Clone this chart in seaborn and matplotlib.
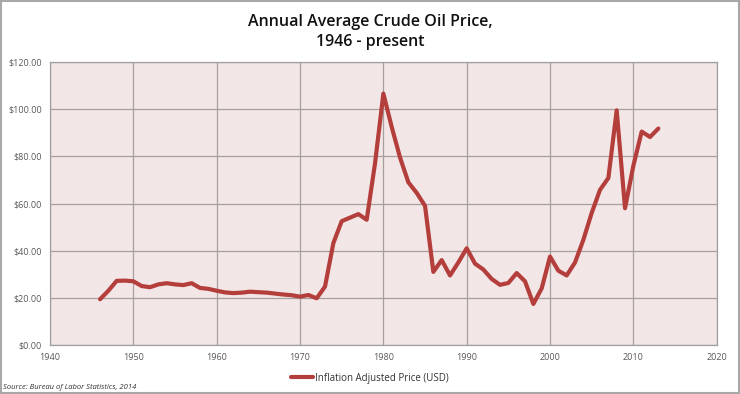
import matplotlib.pyplot as plt
import matplotlib.patches as mpatches
import numpy as np
import pandas as pd
import seaborn as sns

# annual values (inflation adjusted USD)
years = list(range(1946, 2014))
price = [19.4, 23.0, 27.2, 27.3, 27.0, 25.0, 24.5, 25.7, 26.2, 25.7,
         25.4, 26.2, 24.2, 23.8, 23.0, 22.3, 22.0, 22.2, 22.6, 22.4,
         22.2, 21.8, 21.4, 21.1, 20.5, 21.2, 19.8, 24.8, 43.2, 52.5,
         54.0, 55.5, 53.1, 77.0, 106.6, 92.5, 79.5, 69.0, 64.5, 59.0,
         31.0, 36.0, 29.5, 35.0, 41.0, 34.5, 32.0, 28.0, 25.5, 26.3,
         30.5, 27.0, 17.4, 24.0, 37.5, 31.5, 29.5, 35.0, 44.6, 56.0,
         65.8, 70.8, 99.5, 58.0, 76.0, 90.5, 88.2, 91.8]
x_ticks = [1940, 1950, 1960, 1970, 1980, 1990, 2000, 2010, 2020]
y_ticks = [0, 20, 40, 60, 80, 100, 120]

df = pd.DataFrame({"year": years, "price": price})

sns.set_style("white")
plt.rcParams['font.family'] = ['Open Sans', 'DejaVu Sans']

fig = plt.figure(figsize=(7.4, 3.94), dpi=100)
ax = fig.add_axes([0.0676, 0.1244, 0.9009, 0.7182])
ax.set_facecolor("#F3E6E6")

sns.lineplot(data=df, x="year", y="price", ax=ax, color="#B43E3C",
             linewidth=3.0, label="Inflation Adjusted Price (USD)",
             solid_joinstyle="round", solid_capstyle="round")

ax.set_xlim(1940, 2020)
ax.set_ylim(0, 120)
ax.set_xticks(x_ticks)
ax.set_yticks(y_ticks)
ax.set_yticklabels(["${:.2f}".format(v) for v in y_ticks])
ax.grid(True, color="#A79E9E", linewidth=0.9)
ax.set_axisbelow(True)
for s in ax.spines.values():
    s.set_color("#A0A0A0")
    s.set_linewidth(0.9)
ax.tick_params(axis="both", labelsize=6.5, colors="#595959", length=0, pad=6)
ax.set_xlabel("")
ax.set_ylabel("")

fig.suptitle("Annual Average Crude Oil Price,\n1946 - present", y=0.965,
             fontsize=11.5, color="#111111", linespacing=1.35,
             fontweight="semibold")

ax.legend(loc="center", bbox_to_anchor=(0.5, 0.04), bbox_transform=fig.transFigure,
          frameon=False, fontsize=7, handlelength=2.2, handletextpad=0.2,
          labelcolor="#333333")

fig.text(0.004, 0.012, "Source: Bureau of Labor Statistics, 2014", fontsize=5.5,
         style="italic", color="#333333")

fig.patches.append(mpatches.Rectangle((0.001, 0.002), 0.997, 0.995,
                                      transform=fig.transFigure, fill=False,
                                      edgecolor="#A8A8A8", linewidth=1.5))

fig.savefig("out.png", dpi=100, facecolor="white")
